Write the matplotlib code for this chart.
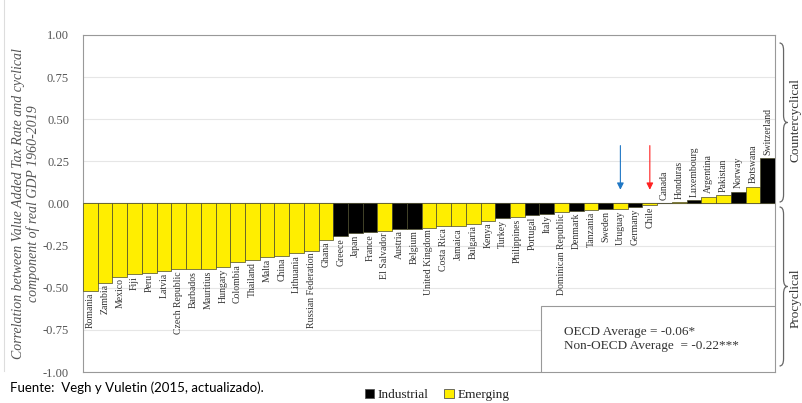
import matplotlib
matplotlib.use("Agg")
from matplotlib import pyplot as plt
from matplotlib.patches import Patch, Rectangle, PathPatch
from matplotlib.path import Path
import numpy as np

countries = ["Romania", "Zambia", "Mexico", "Fiji", "Peru", "Latvia", "Czech Republic",
             "Barbados", "Mauritius", "Hungary", "Colombia", "Thailand", "Malta", "China",
             "Lithuania", "Russian Federation", "Ghana", "Greece", "Japan", "France",
             "El Salvador", "Austria", "Belgium", "United Kingdom", "Costa Rica", "Jamaica",
             "Bulgaria", "Kenya", "Turkey", "Philippines", "Portugal", "Italy",
             "Dominican Republic", "Denmark", "Tanzania", "Sweden", "Uruguay", "Germany",
             "Chile", "Canada", "Honduras", "Luxembourg", "Argentina", "Pakistan", "Norway",
             "Botswana", "Switzerland"]
corr = [-0.52, -0.47, -0.435, -0.42, -0.41, -0.40, -0.39,
        -0.39, -0.39, -0.375, -0.35, -0.335, -0.32, -0.31,
        -0.295, -0.28, -0.215, -0.195, -0.175, -0.17,
        -0.165, -0.15, -0.15, -0.145, -0.135, -0.135,
        -0.12, -0.105, -0.085, -0.08, -0.07, -0.06,
        -0.05, -0.045, -0.04, -0.035, -0.035, -0.02,
        -0.01, 0.002, 0.008, 0.02, 0.04, 0.05, 0.07,
        0.10, 0.27]
# 1 = industrial, 0 = emerging
industrial = [0, 0, 0, 0, 0, 0, 0, 0, 0, 0, 0, 0, 0, 0, 0, 0, 0, 1, 1, 1,
              0, 1, 1, 0, 0, 0, 0, 0, 1, 0, 1, 1, 0, 1, 0, 1, 0, 1, 0, 1,
              0, 1, 0, 0, 1, 0, 1]
yticks = [-1.0, -0.75, -0.5, -0.25, 0.0, 0.25, 0.5, 0.75, 1.0]
arrow_targets = ["Uruguay", "Chile"]
arrow_colors = ["#1f77c4", "#ff2020"]

YELLOW = "#ffee00"
SERIF = "Liberation Serif"
plt.rcParams["font.family"] = [SERIF, "DejaVu Serif"]

fig = plt.figure(figsize=(8.02, 4.03), dpi=100)
ax = fig.add_axes([0.1035, 0.0769, 0.8628, 0.8363])

x = np.arange(len(countries))
colors = ["black" if k else YELLOW for k in industrial]
ax.bar(x, corr, width=1.0, color=colors, edgecolor="#4a4a2a", linewidth=0.5, zorder=3)

for i, (name, v) in enumerate(zip(countries, corr)):
    if v < 0:
        ax.text(i, v - 0.01, name, rotation=90, ha="center", va="top",
                fontsize=7, color="#333333", zorder=4)
    else:
        ax.text(i, v + 0.02, name, rotation=90, ha="center", va="bottom",
                fontsize=7, color="#333333", zorder=4)

# arrows above the two highlighted bars
for name, c in zip(arrow_targets, arrow_colors):
    i = countries.index(name)
    ax.annotate("", xy=(i, 0.065), xytext=(i, 0.36),
                arrowprops=dict(arrowstyle="-|>", color=c, lw=0.8,
                                mutation_scale=10), zorder=5)

ax.axhline(0, color="#777777", lw=0.8, zorder=2)
ax.set_xlim(-0.5, len(countries) - 0.5)
ax.set_ylim(-1, 1)
ax.set_xticks([])
ax.set_yticks(yticks)
ax.set_yticklabels([f"{t:.2f}" for t in yticks])
plt.setp(ax.get_yticklabels(), fontsize=9, color="#555555")
ax.tick_params(axis="y", length=0, pad=10)
ax.grid(axis="y", color="#e6e6e6", lw=0.8, zorder=0)
for s in ax.spines.values():
    s.set_color("#999999")
    s.set_linewidth(0.8)

ax.set_ylabel("Correlation between Value Added Tax Rate and cyclical\ncomponent of real GDP 1960-2019",
              style="italic", fontsize=10, color="#555555", labelpad=2,
              linespacing=1.1)

# averages box
box = Rectangle((0.662, 0.0), 0.338, 0.195, transform=ax.transAxes,
                facecolor="white", edgecolor="#999999", lw=0.8, zorder=6)
ax.add_patch(box)
ax.text(0.695, 0.098, "OECD Average = -0.06*\nNon-OECD Average  = -0.22***",
        transform=ax.transAxes, fontsize=9.5, color="#333333",
        va="center", ha="left", zorder=7, linespacing=1.2)


def brace(x0, ytop, ybot, w):
    ym = (ytop + ybot) / 2
    r = 0.018
    xm = x0 + w / 2
    verts = [(x0, ytop), (xm, ytop), (xm, ytop - r),
             (xm, ym + r), (xm, ym), (x0 + w, ym),
             (xm, ym), (xm, ym - r),
             (xm, ybot + r), (xm, ybot), (x0, ybot)]
    codes = [Path.MOVETO, Path.CURVE3, Path.CURVE3,
             Path.LINETO, Path.CURVE3, Path.CURVE3,
             Path.CURVE3, Path.CURVE3,
             Path.LINETO, Path.CURVE3, Path.CURVE3]
    fig.add_artist(PathPatch(Path(verts, codes), transform=fig.transFigure,
                             facecolor="none", edgecolor="#666666", lw=0.9))


brace(0.972, 1 - 43 / 403, 1 - 202 / 403, 0.01)
brace(0.972, 1 - 207 / 403, 1 - 366 / 403, 0.01)
fig.text(0.9915, 1 - 120 / 403, "Countercyclical", rotation=90, ha="center", va="center",
         fontsize=9.5, color="#333333")
fig.text(0.9915, 1 - 298 / 403, "Procyclical", rotation=90, ha="center", va="center",
         fontsize=9.5, color="#333333")

handles = [Patch(facecolor="black", edgecolor="#555555", lw=0.6),
           Patch(facecolor=YELLOW, edgecolor="#555555", lw=0.6)]
fig.legend(handles, ["Industrial", "Emerging"], loc="center", ncol=2,
           bbox_to_anchor=(0.545, 0.02), frameon=False,
           prop={"family": SERIF, "size": 9.5}, handlelength=0.7, handleheight=0.7,
           handletextpad=0.3, columnspacing=1.2, labelcolor="#222222")

fig.text(0.012, 1 - 388 / 403, "Fuente:  Vegh y Vuletin (2015, actualizado).",
         family="Lato", fontsize=9.5, color="black", va="center", ha="left")

fig.add_artist(plt.Line2D([0.005, 0.005], [0.08, 1.0], transform=fig.transFigure,
                          color="#dddddd", lw=0.8))

fig.savefig("out.png", dpi=100)
